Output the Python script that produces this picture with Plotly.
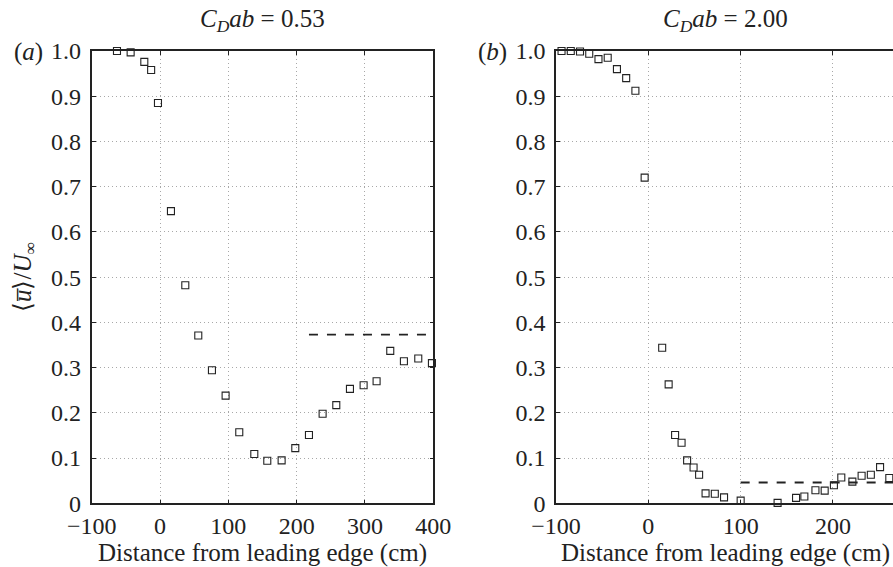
import plotly.graph_objects as go

# Panel (a): C_D ab = 0.53
a_x = [-63, -43, -23, -13, -3, 16, 37, 56, 76, 96, 116, 138, 157, 178, 198,
       218, 238, 258, 278, 298, 317, 337, 357, 378, 398]
a_y = [1.0, 0.997, 0.976, 0.958, 0.885, 0.646, 0.482, 0.371, 0.294, 0.238,
       0.157, 0.109, 0.094, 0.095, 0.122, 0.151, 0.198, 0.217, 0.253, 0.261,
       0.270, 0.337, 0.314, 0.320, 0.310]
a_dash_x = [218, 400]
a_dash_y = [0.373, 0.373]

# Panel (b): C_D ab = 2.00
b_x = [-94, -84, -74, -64, -54, -44, -34, -24, -14, -4, 15, 22, 29, 36, 42,
       49, 55, 62, 72, 82, 100, 140, 160, 169, 181, 191, 201, 209, 221, 231,
       241, 251, 261]
b_y = [1.0, 1.0, 0.999, 0.994, 0.982, 0.985, 0.960, 0.940, 0.912, 0.720,
       0.344, 0.263, 0.151, 0.134, 0.095, 0.079, 0.063, 0.022, 0.021, 0.013,
       0.006, 0.001, 0.012, 0.015, 0.029, 0.028, 0.040, 0.057, 0.048, 0.061,
       0.063, 0.080, 0.056]
b_dash_x = [100, 400]
b_dash_y = [0.046, 0.046]

x_ticks = [-100, 0, 100, 200, 300, 400]
x_ticktext = ["\u2212100", "0", "100", "200", "300", "400"]
y_ticks = [0, 0.1, 0.2, 0.3, 0.4, 0.5, 0.6, 0.7, 0.8, 0.9, 1.0]
y_ticktext = ["0", "0.1", "0.2", "0.3", "0.4", "0.5", "0.6", "0.7", "0.8", "0.9", "1.0"]

W, H = 893, 567
FONT = "Liberation Serif"
FS_TICK = 24
FS_LAB = 25
INK = "#222222"

marker = dict(symbol="square-open", size=7, color=INK, line=dict(width=1.1, color=INK))
dash_line = dict(color=INK, width=1.8, dash="dash")

fig = go.Figure()
fig.add_trace(go.Scatter(x=a_x, y=a_y, mode="markers", marker=marker,
                         xaxis="x", yaxis="y", showlegend=False, cliponaxis=False))
fig.add_trace(go.Scatter(x=a_dash_x, y=a_dash_y, mode="lines", line=dash_line,
                         xaxis="x", yaxis="y", showlegend=False))
fig.add_trace(go.Scatter(x=b_x, y=b_y, mode="markers", marker=marker,
                         xaxis="x2", yaxis="y2", showlegend=False, cliponaxis=False))
fig.add_trace(go.Scatter(x=b_dash_x, y=b_dash_y, mode="lines", line=dash_line,
                         xaxis="x2", yaxis="y2", showlegend=False))

ydom = [1 - 503.3 / H, 1 - 51 / H]
tf = dict(family=FONT, size=FS_TICK, color=INK)
lf = dict(family=FONT, size=FS_LAB, color=INK)
GRID = "#a8a8a8"
common_x = dict(tickvals=x_ticks, ticktext=x_ticktext, ticks="inside", ticklen=4,
                tickcolor=INK, showline=True, linecolor=INK, linewidth=1.6,
                showgrid=True, gridcolor=GRID, gridwidth=1, griddash="1px,3px",
                zeroline=False, tickfont=tf, ticklabelstandoff=0, automargin=False)
common_y = dict(tickvals=y_ticks, ticktext=y_ticktext, ticks="inside", ticklen=4,
                tickcolor=INK, showline=True, linecolor=INK, linewidth=1.6,
                showgrid=True, gridcolor=GRID, gridwidth=1, griddash="1px,3px",
                zeroline=False, range=[0, 1.0], domain=ydom,
                tickfont=tf, ticklabelstandoff=4, automargin=False)

fig.update_layout(
    width=W, height=H,
    margin=dict(l=0, r=0, t=0, b=0, pad=0, autoexpand=False),
    paper_bgcolor="white", plot_bgcolor="white",
    font=tf,
    xaxis=dict(common_x, domain=[91.7 / W, 433.3 / W], range=[-100, 400],
               mirror="allticks", anchor="y"),
    yaxis=dict(common_y, mirror="allticks", anchor="x"),
    xaxis2=dict(common_x, domain=[556 / W, 1.0], range=[-100, 265],
                mirror="allticks", anchor="y2"),
    yaxis2=dict(common_y, mirror=False, anchor="x2"),
)

def note(text, x, y, angle=0):
    return dict(text=text, x=x / W, y=1 - y / H, textangle=angle,
                xref="paper", yref="paper", xanchor="center", yanchor="middle",
                showarrow=False, font=lf)

ann = [
    note("<i>C<sub>D</sub>ab</i> = 0.53", 262.5, 20),
    note("<i>C<sub>D</sub>ab</i> = 2.00", 725, 20),
    note("(<i>a</i>)", 28, 52),
    note("(<i>b</i>)", 492, 52),
    note("Distance from leading edge (cm)", 262.5, 553),
    note("Distance from leading edge (cm)", 725, 553),
    note("\u27e8<i>u\u0305</i>\u27e9/<i>U</i><sub>\u221e</sub>", 25, 277, -90),
]
fig.update_layout(annotations=ann)

fig.write_html(
    "out.html",
    config={"displayModeBar": False},
    post_script="document.body.style.margin='0';document.body.style.overflow='hidden';",
)
